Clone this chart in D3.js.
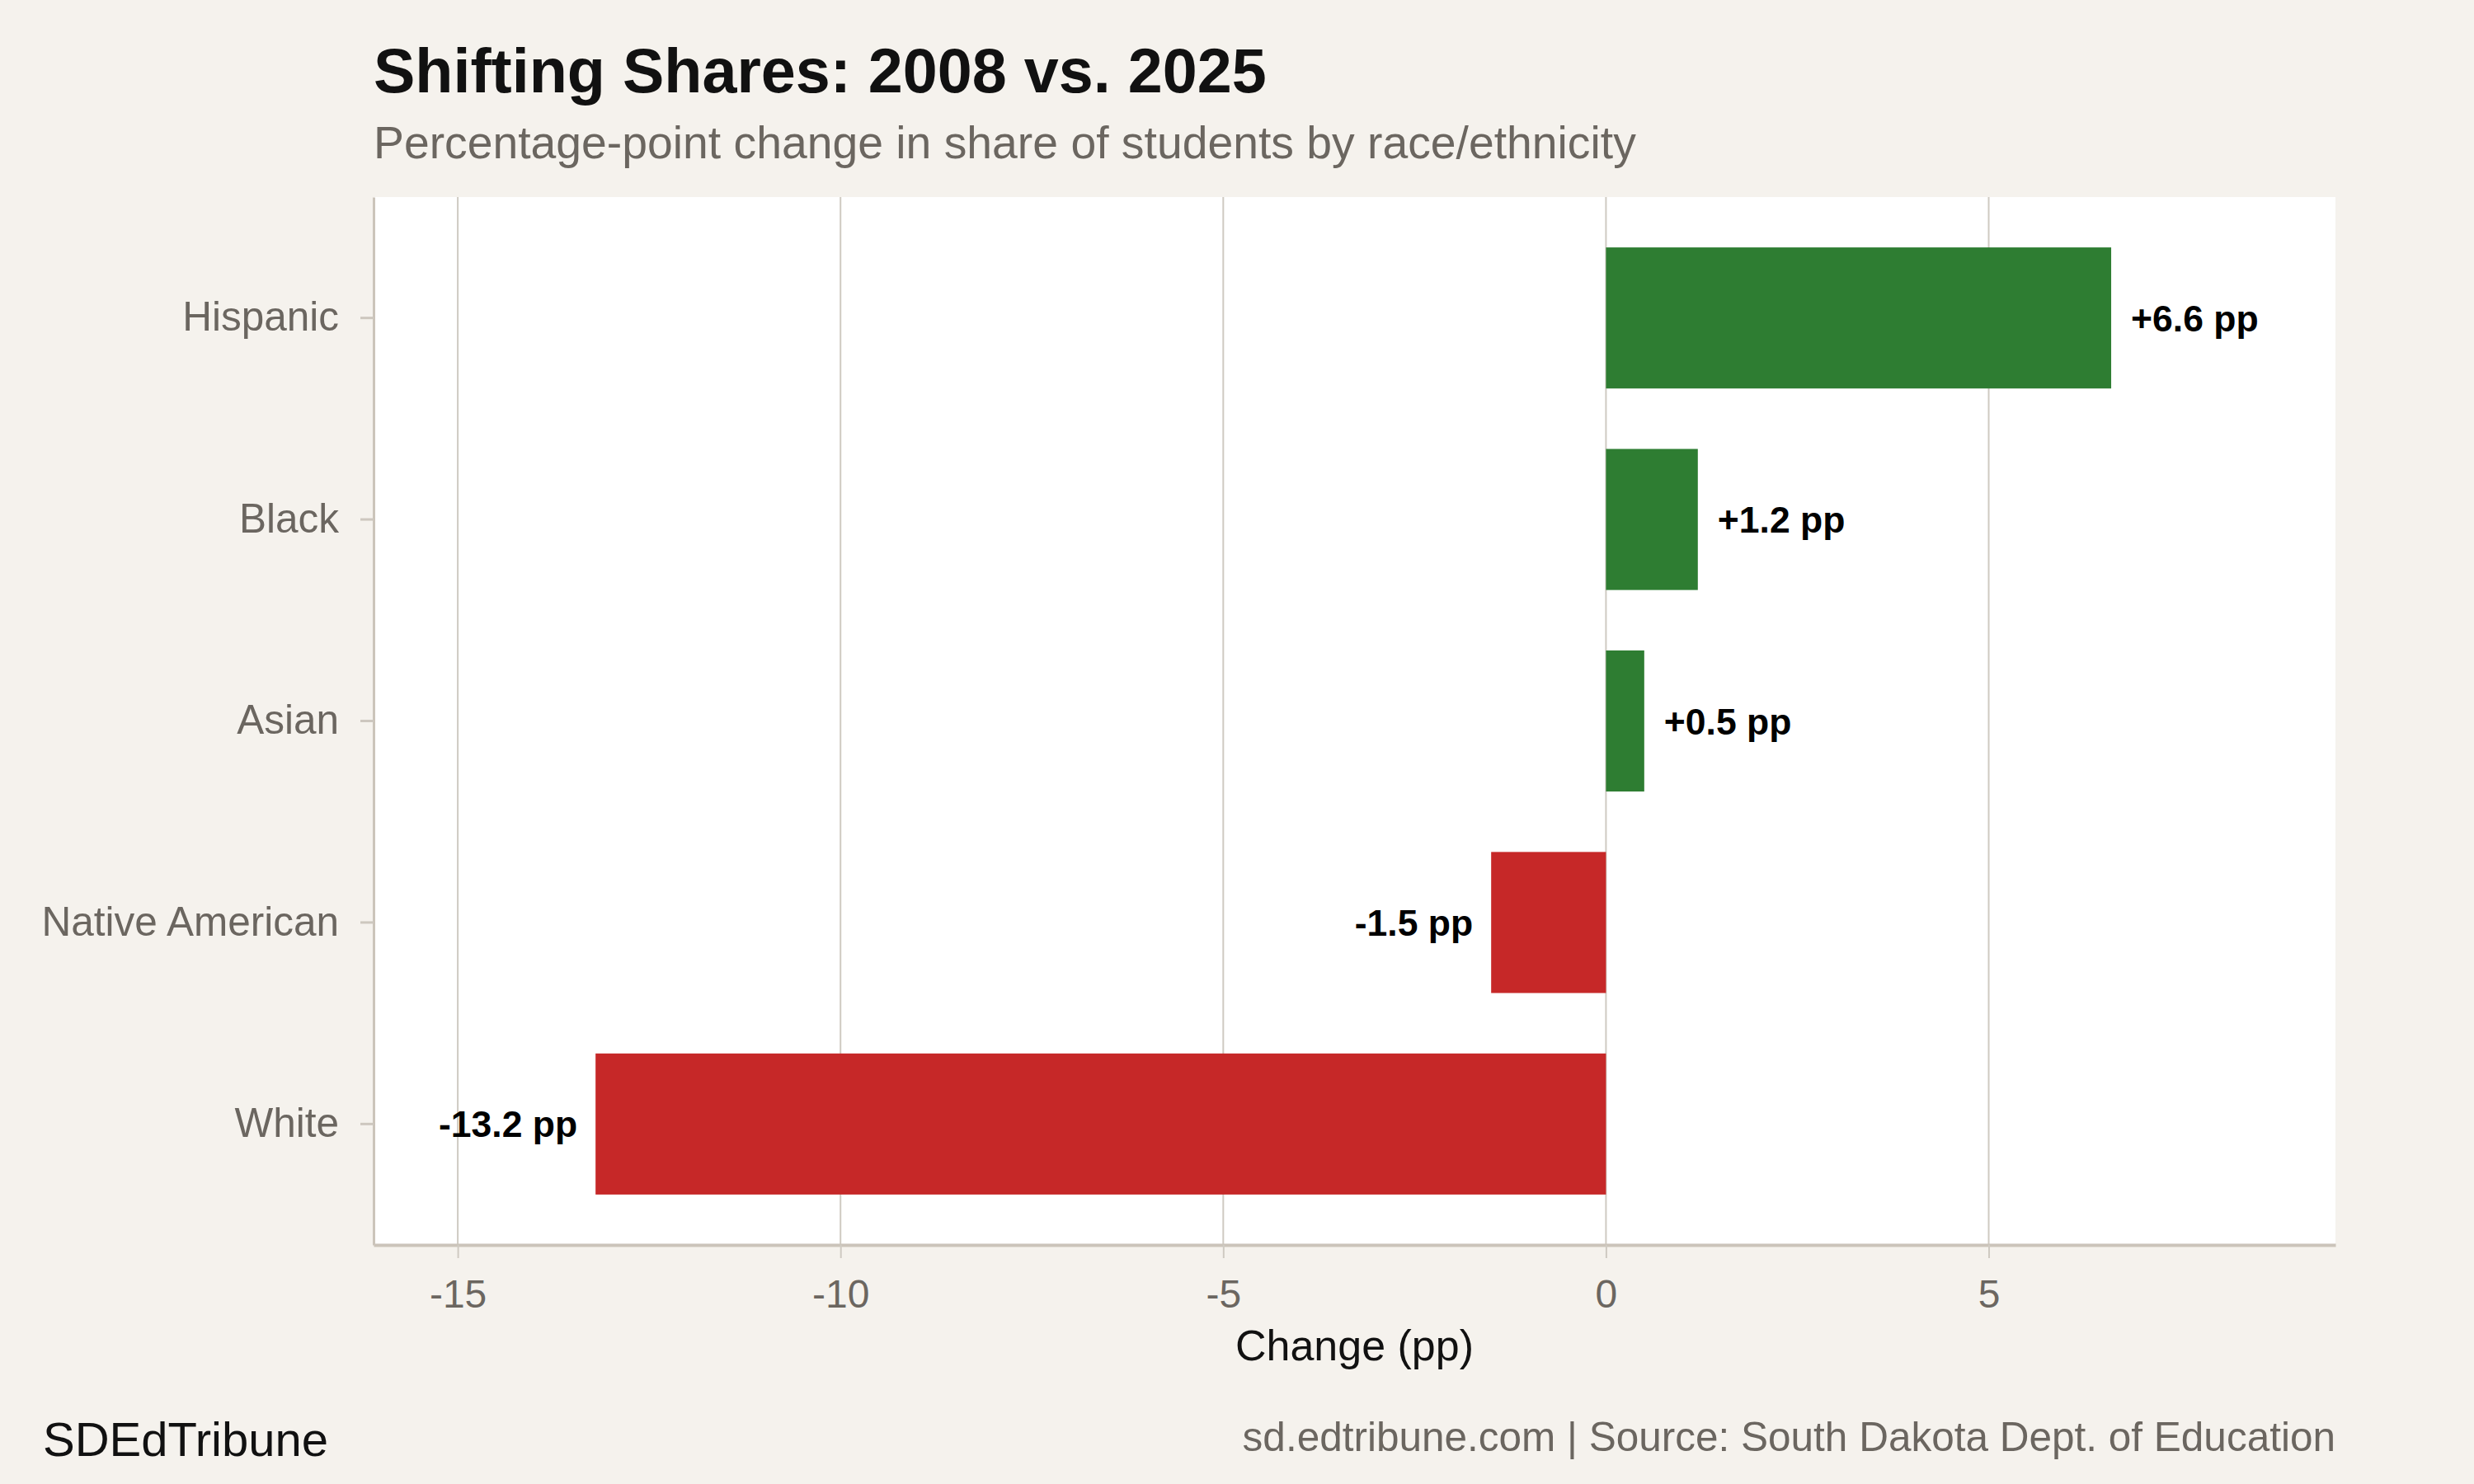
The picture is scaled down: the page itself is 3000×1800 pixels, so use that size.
<!DOCTYPE html>
<html lang="en">
<head>
    <meta charset="UTF-8">
    <title>Shifting Shares: 2008 vs. 2025</title>
    <script src="https://d3js.org/d3.v7.min.js"></script>
    <style>
        body { margin: 0; background: #f5f2ed; }
        text { font-family: "Liberation Sans", Arial, sans-serif; }
    </style>
</head>
<body>
    <div id="chart"></div>
    <script>
        const width = 3000;
        const height = 1800;

        // Data
        const groups = ["Hispanic", "Black", "Asian", "Native American", "White"];
        const changes = [6.6, 1.2, 0.5, -1.5, -13.2];
        const xTicks = [-15, -10, -5, 0, 5];

        const margin = { top: 239, right: 168, bottom: 290, left: 453 };
        const innerW = width - margin.left - margin.right;
        const innerH = height - margin.top - margin.bottom;

        const svg = d3.select("#chart")
            .append("svg")
            .attr("width", width)
            .attr("height", height);

        svg.append("rect")
            .attr("width", width)
            .attr("height", height)
            .attr("fill", "#f5f2ed");

        const x = d3.scaleLinear()
            .domain([-16.1, 9.53])
            .range([margin.left, margin.left + innerW]);

        const y = d3.scaleBand()
            .domain(groups)
            .range([margin.top, margin.top + innerH])
            .paddingInner(0.3)
            .paddingOuter(0.25);

        // Panel
        svg.append("rect")
            .attr("x", margin.left)
            .attr("y", margin.top)
            .attr("width", innerW)
            .attr("height", innerH)
            .attr("fill", "#ffffff");

        // Vertical gridlines
        svg.selectAll("line.grid")
            .data(xTicks)
            .enter()
            .append("line")
            .attr("class", "grid")
            .attr("x1", d => x(d))
            .attr("x2", d => x(d))
            .attr("y1", margin.top)
            .attr("y2", margin.top + innerH)
            .attr("stroke", "#cfcac2")
            .attr("stroke-width", 2);

        // Bars
        svg.selectAll("rect.bar")
            .data(groups)
            .enter()
            .append("rect")
            .attr("class", "bar")
            .attr("x", (d, i) => x(Math.min(0, changes[i])))
            .attr("y", d => y(d))
            .attr("width", (d, i) => Math.abs(x(changes[i]) - x(0)))
            .attr("height", y.bandwidth())
            .attr("fill", (d, i) => changes[i] >= 0 ? "#2e7d32" : "#c62828");

        // Value labels
        svg.selectAll("text.value")
            .data(groups)
            .enter()
            .append("text")
            .attr("class", "value")
            .attr("x", (d, i) => changes[i] >= 0 ? x(changes[i]) + 24 : x(changes[i]) - 22)
            .attr("y", d => y(d) + y.bandwidth() / 2)
            .attr("dy", "0.36em")
            .attr("text-anchor", (d, i) => changes[i] >= 0 ? "start" : "end")
            .attr("font-size", 44.5)
            .attr("font-weight", "bold")
            .attr("fill", "#000")
            .text((d, i) => (changes[i] > 0 ? "+" : "") + changes[i].toFixed(1) + " pp");

        // X axis
        const xAxis = svg.append("g")
            .attr("transform", `translate(0,${margin.top + innerH})`)
            .call(d3.axisBottom(x).tickValues(xTicks).tickSize(16).tickSizeOuter(0).tickPadding(26).tickFormat(d => String(d)));
        xAxis.select(".domain").attr("stroke", "#cbc4ba").attr("stroke-width", 4);
        xAxis.selectAll(".tick line").attr("stroke", "#cfcac2").attr("stroke-width", 2);
        xAxis.selectAll(".tick text")
            .attr("font-size", 48)
            .attr("fill", "#6b6660")
            .attr("font-family", "Liberation Sans, Arial, sans-serif");

        // Y axis
        const yAxis = svg.append("g")
            .attr("transform", `translate(${margin.left},0)`)
            .call(d3.axisLeft(y).tickSize(16).tickSizeOuter(0).tickPadding(26));
        yAxis.select(".domain").attr("stroke", "#cbc4ba").attr("stroke-width", 3);
        yAxis.selectAll(".tick line").attr("stroke", "#cdc7bf").attr("stroke-width", 3);
        yAxis.selectAll(".tick text")
            .attr("font-size", 49.5)
            .attr("fill", "#6b6660")
            .attr("font-family", "Liberation Sans, Arial, sans-serif");

        // Axis title
        svg.append("text")
            .attr("x", margin.left + innerW / 2)
            .attr("y", 1650)
            .attr("text-anchor", "middle")
            .attr("font-size", 52)
            .attr("fill", "#111")
            .text("Change (pp)");

        // Title and subtitle
        svg.append("text")
            .attr("x", 453)
            .attr("y", 112)
            .attr("font-size", 75.5)
            .attr("font-weight", "bold")
            .attr("fill", "#111")
            .text("Shifting Shares: 2008 vs. 2025");

        svg.append("text")
            .attr("x", 453)
            .attr("y", 192)
            .attr("font-size", 55.3)
            .attr("fill", "#6b6660")
            .text("Percentage-point change in share of students by race/ethnicity");

        // Footer
        svg.append("text")
            .attr("x", 52)
            .attr("y", 1766)
            .attr("font-size", 58)
            .attr("fill", "#111")
            .text("SDEdTribune");

        svg.append("text")
            .attr("x", margin.left + innerW)
            .attr("y", 1760)
            .attr("text-anchor", "end")
            .attr("font-size", 49.5)
            .attr("fill", "#6b6660")
            .text("sd.edtribune.com | Source: South Dakota Dept. of Education");
    </script>
</body>
</html>
